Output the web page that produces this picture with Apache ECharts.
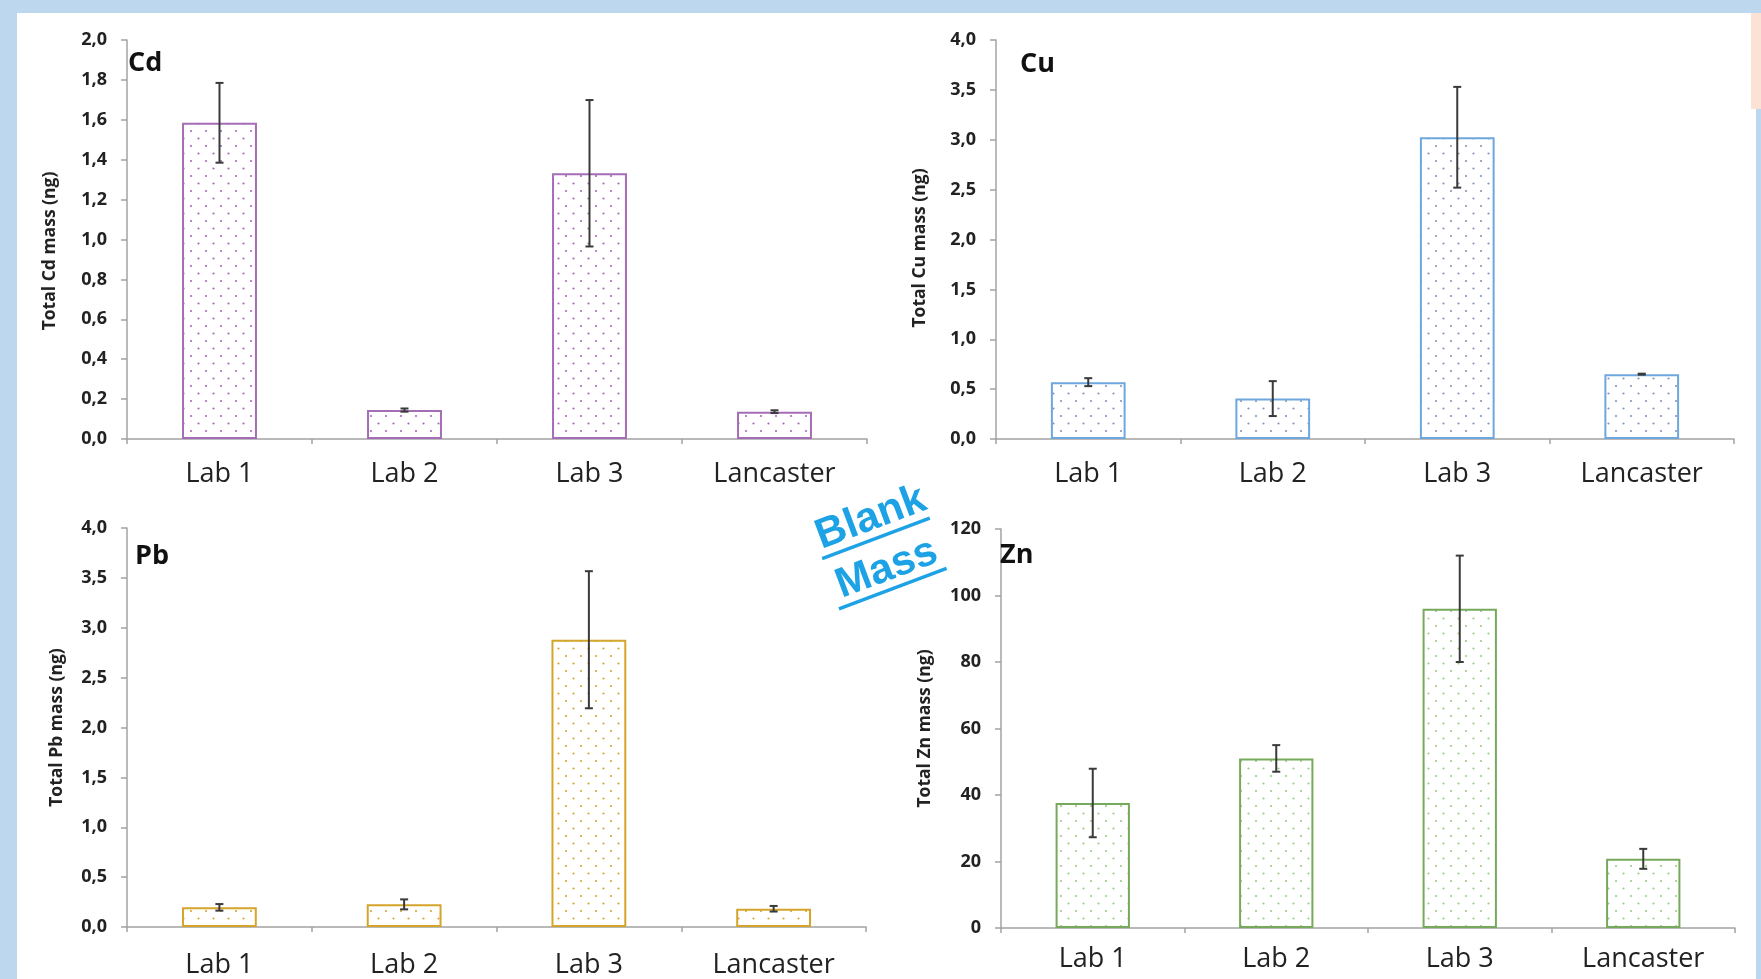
<!DOCTYPE html>
<html>
<head>
<meta charset="utf-8">
<script src="https://cdn.jsdelivr.net/npm/echarts@6/dist/echarts.min.js"></script>
<style>
  html,body{margin:0;padding:0;background:#bdd7ee;width:1761px;height:979px;overflow:hidden;}
  #white{position:absolute;left:17px;top:13px;width:1734px;height:966px;background:#fff;}
  #peach{position:absolute;left:1751px;top:13px;width:10px;height:96px;background:#fbe2d5;}
  #strip{position:absolute;left:1751px;top:109px;width:5px;height:870px;background:#fff;}
  #chart{position:absolute;left:0;top:0;width:1761px;height:979px;}
</style>
</head>
<body>
<div id="white"></div>
<div id="peach"></div>
<div id="strip"></div>
<div id="chart"></div>
<script>
// ---- data ----
const categories = ['Lab 1', 'Lab 2', 'Lab 3', 'Lancaster'];

const cdValues = [1.585, 0.145, 1.332, 0.137];
const cdErrors = [0.200, 0.008, 0.367, 0.007];

const cuValues = [0.570, 0.405, 3.025, 0.650];
const cuErrors = [0.040, 0.175, 0.505, 0.005];

const pbValues = [0.197, 0.227, 2.880, 0.183];
const pbErrors = [0.033, 0.050, 0.687, 0.028];

const znValues = [37.6, 51.0, 96.0, 20.8];
const znErrors = [10.3, 4.0, 16.0, 3.0];

const cdAxis = {min: 0, max: 2, interval: 0.2};
const cuAxis = {min: 0, max: 4, interval: 0.5};
const pbAxis = {min: 0, max: 4, interval: 0.5};
const znAxis = {min: 0, max: 120, interval: 20};

const elements = ['Cd', 'Cu', 'Pb', 'Zn'];
const axisTitles = ['Total Cd mass (ng)', 'Total Cu mass (ng)', 'Total Pb mass (ng)', 'Total Zn mass (ng)'];

// ---- styles ----
function dotPattern(color) {
  const c = document.createElement('canvas');
  c.width = 15; c.height = 15;
  const g = c.getContext('2d');
  g.fillStyle = '#ffffff';
  g.fillRect(0, 0, 15, 15);
  g.fillStyle = color;
  [[3.5, 3.5], [11, 11]].forEach(function (p) {
    g.beginPath(); g.arc(p[0], p[1], 1.1, 0, Math.PI * 2); g.fill();
  });
  return c;
}

const panels = [
  {values: cdValues, errors: cdErrors, axis: cdAxis, border: '#a56db5', dot: '#a56cba', dec: 1,
   grid: {left: 127, top: 40, width: 740, height: 399}, nameGap: 68, namePad: [0, 23, 0, 0], catMargin: 22},
  {values: cuValues, errors: cuErrors, axis: cuAxis, border: '#6ea7de', dot: '#8597b8', dec: 1,
   grid: {left: 996, top: 40, width: 738, height: 399}, nameGap: 67, namePad: [0, 17, 0, 0], catMargin: 22},
  {values: pbValues, errors: pbErrors, axis: pbAxis, border: '#d4a52a', dot: '#d6a634', dec: 1,
   grid: {left: 127, top: 528, width: 739, height: 401}, nameGap: 61, namePad: [0, 0, 0, 0], catMargin: 25},
  {values: znValues, errors: znErrors, axis: znAxis, border: '#76a95b', dot: '#9ccb8a', dec: 0,
   grid: {left: 1001, top: 529, width: 734, height: 399}, nameGap: 67, namePad: [0, 0, 0, 0], catMargin: 18}
];

const titlePos = [
  {x: 128, y: 63}, {x: 1020, y: 64}, {x: 135, y: 556}, {x: 1000, y: 555}
];

const axisColor = '#a3a3a3';
const textColor = '#222222';

function errRender(params, api) {
  const idx = api.value(0), v = api.value(1), e = api.value(2);
  const t = api.coord([idx, v + e]);
  const b = api.coord([idx, v - e]);
  const cw = 4;
  const st = {stroke: '#3a3a3a', lineWidth: 2};
  return {
    type: 'group',
    children: [
      {type: 'line', shape: {x1: t[0], y1: t[1], x2: b[0], y2: b[1]}, style: st},
      {type: 'line', shape: {x1: t[0] - cw, y1: t[1], x2: t[0] + cw, y2: t[1]}, style: st},
      {type: 'line', shape: {x1: b[0] - cw, y1: b[1], x2: b[0] + cw, y2: b[1]}, style: st}
    ]
  };
}

const grid = [], xAxis = [], yAxis = [], series = [];
panels.forEach(function (p, i) {
  grid.push(p.grid);
  xAxis.push({
    type: 'category', gridIndex: i, data: categories,
    axisLine: {lineStyle: {color: axisColor, width: 1.5}},
    axisTick: {show: true, length: 5, lineStyle: {color: axisColor, width: 1.5}},
    axisLabel: {color: textColor, fontFamily: 'Open Sans', fontSize: 27, margin: p.catMargin},
    splitLine: {show: false}
  });
  yAxis.push({
    type: 'value', gridIndex: i, min: p.axis.min, max: p.axis.max, interval: p.axis.interval,
    name: axisTitles[i], nameLocation: 'middle', nameRotate: 90, nameGap: p.nameGap,
    nameTextStyle: {color: textColor, fontFamily: 'Open Sans', fontWeight: 'bold', fontSize: 17.5, padding: p.namePad},
    axisLine: {show: true, lineStyle: {color: axisColor, width: 1.5}},
    axisTick: {show: true, length: 6, lineStyle: {color: axisColor, width: 1.5}},
    axisLabel: {
      color: textColor, fontFamily: 'Open Sans', fontWeight: 'bold', fontSize: 18, margin: 20,
      formatter: (function (dec) { return function (v) { return v.toFixed(dec).replace('.', ','); }; })(p.dec)
    },
    splitLine: {show: false}
  });
  series.push({
    type: 'bar', xAxisIndex: i, yAxisIndex: i, data: p.values, barWidth: '40.5%',
    itemStyle: {color: {image: dotPattern(p.dot), repeat: 'repeat'}, borderColor: p.border, borderWidth: 2},
    emphasis: {disabled: true}, z: 2
  });
  series.push({
    type: 'custom', xAxisIndex: i, yAxisIndex: i, renderItem: errRender,
    data: p.values.map(function (v, k) { return [k, v, p.errors[k]]; }),
    encode: {x: 0, y: 1}, z: 10, silent: true
  });
});

const graphic = elements.map(function (el, i) {
  return {
    type: 'text', x: titlePos[i].x, y: titlePos[i].y, z: 20,
    style: {text: el, fill: '#111', font: 'bold 27px "Open Sans"', align: 'left', verticalAlign: 'middle'}
  };
});

const blue = '#1ea2e6';
graphic.push({
  type: 'group', x: 871, y: 518, rotation: 0.36, z: 30,
  children: [
    {type: 'text', x: 0, y: 0, style: {text: 'Blank', fill: blue, font: 'bold 42px "Liberation Sans"', align: 'center', verticalAlign: 'middle'}},
    {type: 'rect', shape: {x: -60, y: 19, width: 115, height: 3.5}, style: {fill: blue}},
    {type: 'text', x: -3, y: 53, style: {text: 'Mass', fill: blue, font: 'bold 42px "Liberation Sans"', align: 'center', verticalAlign: 'middle'}},
    {type: 'rect', shape: {x: -62, y: 72, width: 115, height: 3.5}, style: {fill: blue}}
  ]
});

const chart = echarts.init(document.getElementById('chart'), null, {renderer: 'canvas'});
chart.setOption({
  backgroundColor: 'transparent',
  animation: false,
  grid: grid, xAxis: xAxis, yAxis: yAxis, series: series, graphic: graphic
});
</script>
</body>
</html>
